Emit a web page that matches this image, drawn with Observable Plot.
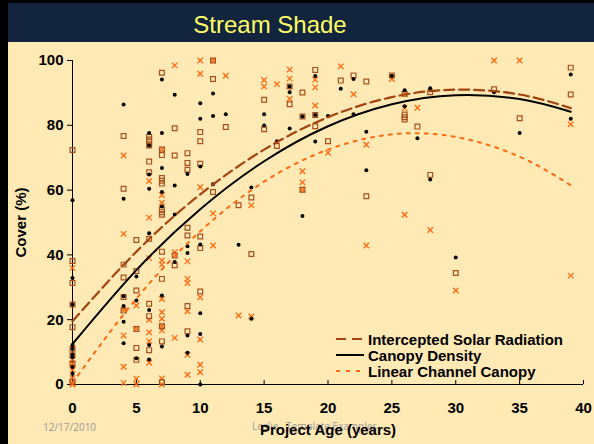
<!DOCTYPE html>
<html>
<head>
<meta charset="utf-8">
<script src="https://cdn.jsdelivr.net/npm/d3@7"></script>
<script src="https://cdn.jsdelivr.net/npm/@observablehq/plot@0.6"></script>
<style>
  html, body { margin: 0; padding: 0; overflow: hidden; }
  #page { position: relative; width: 594px; height: 444px; background: #FFE9B4; overflow: hidden; font-family: "Liberation Sans", Arial, sans-serif; }
  #leftbar { position: absolute; left: 0; top: 0; width: 8px; height: 444px; background: #000; }
  #titlebar { position: absolute; left: 0; top: 0; width: 594px; height: 42px; background: #13243F; border-top: 3px solid #000; box-sizing: border-box; }
  #title { position: absolute; left: 0; width: 540px; top: 8px; text-align: center; color: #FFFF66; font-size: 24px; }
  .foot { position: absolute; color: #9a9a9a; font-size: 10px; font-family: "Open Sans", "Liberation Sans", sans-serif; }
  #chart { position: absolute; left: 0; top: 42px; }
  #legend { position: absolute; left: 334px; top: 331px; }
  .lrow { display: flex; align-items: center; height: 16px; font-weight: bold; font-size: 15px; color: #000; }
  .lrow svg { margin-right: 4px; }
</style>
</head>
<body>
<div id="page">
  <div id="titlebar"><div id="title">Stream Shade</div></div>
  <div id="leftbar"></div>
  <div class="foot" style="left:43px; top:420px;">12/17/2010</div>
  <div class="foot" style="left:252px; top:419px;">Leslie &nbsp; Template Examples</div>
  <div id="chart"></div>
  <div id="legend"></div>
</div>
<script>
// Canopy Density (black dots)
const canopyAge = [0,0,0,0,0,0,0,0,0, 4,4,4,4,4,4, 5,5,5, 6,6,6,6,6,6,6,6, 7,7,7,7,7,7,7, 8,8,8,8, 9,9,9,9,9, 10,10,10,10,10,10,10, 11,11,11, 12, 13, 14,14, 15,15, 16, 17,17,17, 18,18, 19,19,19, 20, 21, 22,22, 23,23, 25, 26,26, 27, 28,28, 30, 33, 35, 39,39];
const canopyVal = [56.9,32.9,24.7,12.2,11.0,9.2,8.4,5.4,3.3, 86.4,57.3,27.2,24.2,19.4,12.7, 33.3,25.9,8.1, 77.6,73.8,64.8,60.4,46.7,23.0,12.2,7.7, 94.1,77.6,66.8,59.4,54.9,27.5,11.7, 89.4,61.4,52.5,37.8, 65.0,42.7,40.6,15.1,9.8, 86.8,82.0,67.3,43.2,22.0,15.6,0, 89.8,82.9,61.8, 83.4, 43.1, 60.8,20.3, 83.4,79.9, 75.1, 92.0,90.2,79.0, 82.7,52.0, 95.2,83.2,75.0, 82.9, 91.3, 94.3,83.4, 78.0,66.1, 95.3, 90.8,85.9, 76.0, 91.4,63.3, 39.2, 90.2, 77.6, 95.7,82.0];

// Intercepted Solar Radiation (brown squares)
const solarAge = [0,0,0,0,0,0,0,0,0, 4,4,4,4,4,4, 5,5,5,5,5,5, 6,6,6,6,6,6,6,6,6,6, 7,7,7,7,7,7,7,7,7,7,7,7,7,7, 8,8,8,8, 9,9,9,9,9,9,9, 10,10,10,10,10,10, 11,11,11, 12, 13, 14,14, 15,15, 16, 17,17, 18,18,18, 19,19,19, 20, 21, 22, 23,23, 25, 26,26,26,26, 27, 28,28, 30, 33, 35, 39,39];
const solarVal = [72.4,38.1,31.3,24.7,17.7,11.0,9.0,6.4,0.9, 76.7,60.4,37.0,33.0,27.0,22.8, 44.6,35.0,29.0,17.1,11.3,7.6, 76.5,75.6,74.9,73.8,68.8,65.5,45.0,24.9,21.1,10.6, 96.2,72.5,70.8,63.7,62.9,62.0,54.0,53.2,52.4,41.0,32.6,18.0,13.3,0.7, 79.1,70.7,39.8,36.8, 71.4,68.4,66.3,48.4,46.0,24.2,16.4, 77.9,75.1,68.1,45.7,42.1,28.7, 100,94.3,59.4, 79.5, 55.3, 57.7,40.3, 87.9,78.8, 73.6, 92.0,86.5, 90.1,82.7,60.1, 97.1,83.2,79.7, 75.1, 93.8, 95.4, 93.5,58.1, 95.4, 89.7,83.3,82.5,81.8, 79.6, 90.2,64.7, 34.4, 91.1, 82.2, 97.8,89.5];

// Linear Channel Canopy (orange crosses)
const channelAge = [0,0,0,0,0,0,0, 4,4,4,4,4,4, 5,5,5,5, 6,6,6,6,6,6,6, 7,7,7,7,7,7,7,7,7,7,7,7, 8,8,8, 9,9,9,9,9,9, 10,10,10,10,10,10,10, 11,11,11, 12, 13, 14,14, 15,15, 16, 17,17,17, 18,18,18, 19,19,19, 20, 21, 22, 23,23, 25, 26,26,26, 27, 28, 30, 33, 35, 39,39];
const channelVal = [36.0,7.7,6.4,4.5,2.0,0.3,0, 70.7,46.5,23.0,15.1,5.5,0.5, 24.4,17.2,1.8,0, 62.8,51.5,39.0,20.0,16.1,13.4,6.7, 72.5,58.5,56.1,38.3,37.0,26.4,22.3,20.3,18.0,16.7,1.9,0, 98.5,40.8,14.4, 38.0,32.6,31.3,22.6,9.2,3.0, 100,95.9,60.9,26.9,13.9,6.1,3.8, 100,52.8,42.9, 95.3, 21.3, 55.3,21.0, 94.0,92.0, 92.7, 97.2,94.4,88.2, 65.8,62.4,60.1, 94.1,91.7,86.1, 71.5, 98.2, 89.6, 74.0,42.9, 94.3, 89.7,85.3,52.4, 85.4, 47.7, 29.0, 100, 100, 80.3,33.6];

// Trend curves
const curveAge   = [0, 5, 10, 15, 20, 25, 30, 35, 39];
const solarFit   = [19.5, 41.0, 58.7, 72.5, 82.5, 88.7, 91.0, 89.5, 85.3];
const canopyFit  = [12.5, 35.3, 54.1, 68.9, 79.7, 86.5, 89.3, 88.1, 84.2];
const channelFit = [0.5, 26.5, 47.3, 62.6, 72.5, 77.2, 76.4, 70.3, 61.5];

const xTicks = [0, 5, 10, 15, 20, 25, 30, 35, 40];
const yTicks = [0, 20, 40, 60, 80, 100];

const seriesNames = ["Intercepted Solar Radiation", "Canopy Density", "Linear Channel Canopy"];
const colors = { solar: "#A3440F", canopy: "#000000", channel: "#FF6A10", square: "#A8501E" };

const pts = (ages, vals) => ages.map((a, i) => ({ age: a, v: vals[i] }));
const canopyPts = pts(canopyAge, canopyVal);
const solarPts = pts(solarAge, solarVal);
const channelPts = pts(channelAge, channelVal);
const solarLine = pts(curveAge, solarFit);
const canopyLine = pts(curveAge, canopyFit);
const channelLine = pts(curveAge, channelFit);

const chart = Plot.plot({
  width: 594,
  height: 402,
  marginLeft: 72,
  marginRight: 11,
  marginTop: 18,
  marginBottom: 60,
  style: { background: "transparent", fontFamily: "Liberation Sans, Arial, sans-serif", fontSize: "15px", fontWeight: "bold", color: "#000" },
  x: { domain: [0, 40] },
  y: { domain: [0, 100] },
  marks: [
    Plot.axisY({ ticks: yTicks, tickSize: 5, tickPadding: 4, label: "Cover (%)", labelAnchor: "center", labelArrow: "none", labelOffset: 57, fontSize: 15, fontWeight: "bold" }),
    Plot.axisX({ ticks: xTicks, tickSize: -4, tickPadding: 22, label: "Project Age (years)", labelAnchor: "center", labelArrow: "none", labelOffset: 50, fontSize: 15, fontWeight: "bold" }),
    Plot.ruleX([0], { stroke: "#000", strokeWidth: 1 }),
    Plot.ruleY([0], { stroke: "#000", strokeWidth: 1 }),
    Plot.dot(channelPts, { x: "age", y: "v", symbol: "times", r: 2.6, stroke: colors.channel, strokeWidth: 1.3 }),
    Plot.dot(solarPts, { x: "age", y: "v", symbol: "square", r: 2.7, stroke: colors.square, fill: "none", strokeWidth: 1.2 }),
    Plot.dot(canopyPts, { x: "age", y: "v", symbol: "circle", r: 2.0, fill: "#000", stroke: "none" }),
    Plot.line(channelLine, { x: "age", y: "v", curve: "natural", stroke: colors.channel, strokeWidth: 2, strokeDasharray: "3,6" }),
    Plot.line(solarLine, { x: "age", y: "v", curve: "natural", stroke: colors.solar, strokeWidth: 2.2, strokeDasharray: "10,5" }),
    Plot.line(canopyLine, { x: "age", y: "v", curve: "natural", stroke: colors.canopy, strokeWidth: 2 })
  ]
});
document.getElementById("chart").appendChild(chart);

// legend
const legendStyles = [
  { stroke: colors.solar, dash: "10,6", w: 2.2 },
  { stroke: colors.canopy, dash: null, w: 2 },
  { stroke: colors.channel, dash: "4,6", w: 2 }
];
const legend = document.getElementById("legend");
seriesNames.forEach((name, i) => {
  const row = document.createElement("div");
  row.className = "lrow";
  const s = legendStyles[i];
  row.innerHTML = `<svg width="30" height="16"><line x1="2" x2="30" y1="8" y2="8" stroke="${s.stroke}" stroke-width="${s.w}" ${s.dash ? `stroke-dasharray="${s.dash}"` : ""}/></svg><span>${name}</span>`;
  legend.appendChild(row);
});
</script>
</body>
</html>
